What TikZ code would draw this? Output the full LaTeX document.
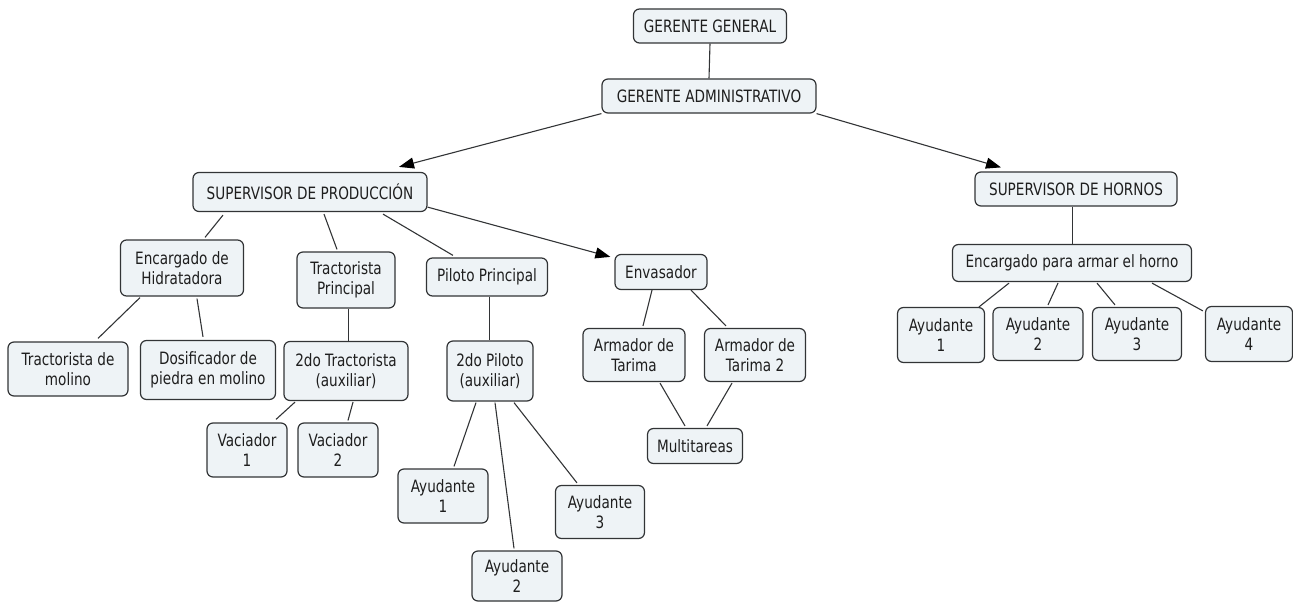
\documentclass[tikz,border=0pt]{standalone}
\usepackage{fontspec}
\setmainfont[FakeStretch=0.8]{DejaVu Sans}
\usetikzlibrary{arrows.meta}
\definecolor{boxfill}{RGB}{238,243,246}
\definecolor{boxline}{RGB}{50,52,54}
\definecolor{ink}{RGB}{30,30,30}
\tikzset{
  box/.style={draw=boxline, fill=boxfill, line width=1.2pt, rounded corners=6pt,
    align=center, inner sep=0pt, text=ink,
    font=\fontsize{17}{20.5}\selectfont},
  link/.style={draw=boxline, line width=1.1pt},
  arrowlink/.style={link, -{Triangle[length=15pt,width=11pt,color=black]}}
}
\begin{document}
\begin{tikzpicture}[x=1pt,y=-1pt]
\useasboundingbox (0,0) rectangle (1293,602);

% management
\node[box, minimum width=153pt, minimum height=34pt] (gg) at (710,26) {GERENTE GENERAL};
\node[box, minimum width=214pt, minimum height=34pt] (ga) at (709,96) {GERENTE ADMINISTRATIVO};

% supervisors
\node[box, minimum width=234pt, minimum height=39pt] (sp) at (310,192) {SUPERVISOR DE PRODUCCIÓN};
\node[box, minimum width=202pt, minimum height=34pt] (sh) at (1076,189) {SUPERVISOR DE HORNOS};

% production branch
\node[box, minimum width=123pt, minimum height=56pt] (eh) at (182,268) {Encargado de\\Hidratadora};
\node[box, minimum width=98pt, minimum height=56pt] (tp) at (346,280) {Tractorista\\Principal};
\node[box, minimum width=121pt, minimum height=38pt] (pp) at (487,277) {Piloto Principal};
\node[box, minimum width=92pt, minimum height=35pt] (en) at (661,272) {Envasador};

\node[box, minimum width=120pt, minimum height=54pt] (tm) at (68,369) {Tractorista de\\molino};
\node[box, minimum width=135pt, minimum height=59pt] (do) at (208,370) {Dosificador de\\piedra en molino};
\node[box, minimum width=124pt, minimum height=59pt] (t2) at (346,371) {2do Tractorista\\(auxiliar)};
\node[box, minimum width=80pt, minimum height=54pt] (v1) at (247,450) {Vaciador\\1};
\node[box, minimum width=80pt, minimum height=54pt] (v2) at (338,450) {Vaciador\\2};

\node[box, minimum width=86pt, minimum height=60pt] (p2) at (490,371) {2do Piloto\\(auxiliar)};
\node[box, minimum width=90pt, minimum height=54pt] (pa1) at (443,496) {Ayudante\\1};
\node[box, minimum width=90pt, minimum height=50pt] (pa2) at (517,576) {Ayudante\\2};
\node[box, minimum width=89pt, minimum height=53pt] (pa3) at (600,512) {Ayudante\\3};

\node[box, minimum width=102pt, minimum height=53pt] (at1) at (634,355) {Armador de\\Tarima};
\node[box, minimum width=101pt, minimum height=53pt] (at2) at (755,355) {Armador de\\Tarima 2};
\node[box, minimum width=95pt, minimum height=35pt] (mu) at (695,446) {Multitareas};

% ovens branch
\node[box, minimum width=239pt, minimum height=37pt] (eho) at (1072,263) {Encargado para armar el horno};
\node[box, minimum width=87pt, minimum height=55pt] (ha1) at (941,335) {Ayudante\\1};
\node[box, minimum width=90pt, minimum height=53pt] (ha2) at (1038,334) {Ayudante\\2};
\node[box, minimum width=89pt, minimum height=53pt] (ha3) at (1137,334) {Ayudante\\3};
\node[box, minimum width=87pt, minimum height=55pt] (ha4) at (1249,334) {Ayudante\\4};

% connectors
\draw[link] (gg.south) -- (ga.north);
\draw[arrowlink] (ga.south west) -- ([xshift=89pt,yshift=5pt]sp.north);
\draw[arrowlink] (ga.south east) -- ([xshift=-75pt,yshift=4pt]sh.north);
\draw[arrowlink] ([yshift=5pt]sp.south east) -- ([xshift=-4pt,yshift=-3pt]en.north west);

\draw[link] ([xshift=-87pt,yshift=-3pt]sp.south) -- ([xshift=23pt,yshift=2pt]eh.north);
\draw[link] ([xshift=14pt,yshift=-2pt]sp.south) -- ([xshift=-9pt,yshift=2pt]tp.north);
\draw[link] ([xshift=73pt,yshift=-2pt]sp.south) -- ([xshift=-34pt,yshift=2pt]pp.north);

\draw[link] ([xshift=-42pt,yshift=-1pt]eh.south) -- ([xshift=30pt,yshift=3pt]tm.north);
\draw[link] ([xshift=15pt,yshift=-2pt]eh.south) -- ([xshift=-5pt,yshift=3pt]do.north);
\draw[link] ([xshift=2.5pt]tp.south) -- ([xshift=2.5pt]t2.north);
\draw[link] ([xshift=-51pt,yshift=-1pt]t2.south) -- ([xshift=29pt,yshift=3pt]v1.north);
\draw[link] ([xshift=7pt,yshift=-1pt]t2.south) -- ([xshift=10pt,yshift=2pt]v2.north);

\draw[link] ([xshift=2.5pt]pp.south) -- ([xshift=-0.5pt]p2.north);
\draw[link] ([xshift=-14pt,yshift=-1pt]p2.south) -- ([xshift=11pt,yshift=2pt]pa1.north);
\draw[link] ([xshift=5pt,yshift=-1pt]p2.south) -- ([xshift=-3pt,yshift=2pt]pa2.north);
\draw[link] ([xshift=24pt,yshift=-1pt]p2.south) -- ([xshift=-23pt,yshift=2pt]pa3.north);

\draw[link] ([xshift=-9pt]en.south) -- ([xshift=9pt,yshift=2pt]at1.north);
\draw[link] ([xshift=30pt]en.south) -- ([xshift=-29pt,yshift=2pt]at2.north);
\draw[link] ([xshift=26pt,yshift=-1pt]at1.south) -- ([xshift=-10pt,yshift=2pt]mu.north);
\draw[link] ([xshift=-23pt,yshift=-1pt]at2.south) -- ([xshift=12pt,yshift=2pt]mu.north);

\draw[link] ([xshift=-3.5pt]sh.south) -- ([xshift=0.5pt]eho.north);
\draw[link] ([xshift=-63pt,yshift=-1pt]eho.south) -- ([xshift=38pt]ha1.north);
\draw[link] ([xshift=-14pt,yshift=-1pt]eho.south) -- ([xshift=10pt,yshift=2pt]ha2.north);
\draw[link] ([xshift=25pt,yshift=-1pt]eho.south) -- ([xshift=-22pt,yshift=2pt]ha3.north);
\draw[link] ([xshift=80pt,yshift=-1pt]eho.south) -- ([xshift=-2pt,yshift=-5pt]ha4.north west);
\end{tikzpicture}
\end{document}
